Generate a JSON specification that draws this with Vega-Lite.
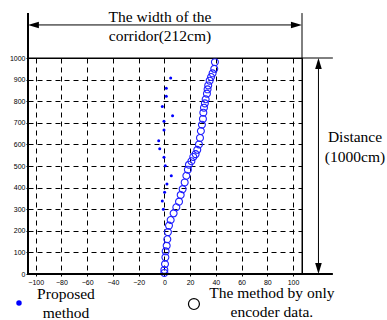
{
  "$schema": "https://vega.github.io/schema/vega-lite/v6.json",
  "width": 274,
  "height": 216,
  "autosize": "none",
  "padding": {"left": 28, "top": 58, "right": 85, "bottom": 46},
  "background": "white",
  "config": {
    "view": {"stroke": "black", "strokeWidth": 1},
    "font": "Liberation Sans",
    "axis": {"labelOverlap": false, "labelFlush": false, "labelBound": false, "labelFontSize": 7, "labelColor": "#000", "domain": false, "tickSize": 2, "tickColor": "#000",
      "grid": true, "gridDash": [5, 4], "gridColor": "#000000", "gridOpacity": 1, "gridWidth": 1, "title": null}
  },
  "datasets": {
    "encoder": [
      {"x": 0, "y": 5}, {"x": 0, "y": 19}, {"x": 0.5, "y": 46}, {"x": 0.8, "y": 77},
      {"x": 1, "y": 105}, {"x": 1.8, "y": 131}, {"x": 2.3, "y": 161}, {"x": 2.8, "y": 194},
      {"x": 3.6, "y": 224}, {"x": 4.9, "y": 250}, {"x": 7.2, "y": 281}, {"x": 9.3, "y": 309},
      {"x": 11.4, "y": 335}, {"x": 12.7, "y": 366}, {"x": 14.2, "y": 393}, {"x": 15.8, "y": 424},
      {"x": 17.1, "y": 455}, {"x": 18.3, "y": 483}, {"x": 19.1, "y": 506}, {"x": 21, "y": 522},
      {"x": 22.5, "y": 542}, {"x": 24.3, "y": 555}, {"x": 25.6, "y": 575}, {"x": 26.9, "y": 600},
      {"x": 27.7, "y": 630}, {"x": 28.4, "y": 662}, {"x": 29.2, "y": 691}, {"x": 30, "y": 718},
      {"x": 30.3, "y": 747}, {"x": 30.8, "y": 770}, {"x": 31.5, "y": 790}, {"x": 32.1, "y": 809},
      {"x": 33.1, "y": 835}, {"x": 33.6, "y": 855}, {"x": 34.1, "y": 873}, {"x": 35.2, "y": 895},
      {"x": 36.3, "y": 912}, {"x": 37.5, "y": 929}, {"x": 38.8, "y": 950}, {"x": 39.3, "y": 981}
    ],
    "proposed": [
      {"x": 4.9, "y": 907}, {"x": 1.5, "y": 860}, {"x": 1.5, "y": 823}, {"x": -1.6, "y": 775},
      {"x": 6.4, "y": 733}, {"x": -0.3, "y": 707}, {"x": -0.3, "y": 667}, {"x": -4.4, "y": 617},
      {"x": -3.6, "y": 580}, {"x": -0.3, "y": 540}, {"x": 0.7, "y": 501}, {"x": 5.4, "y": 455},
      {"x": 2, "y": 417}, {"x": 0.2, "y": 378}, {"x": -1.6, "y": 338}, {"x": -0.8, "y": 300}
    ],
    "lines": [
      {"x": -106, "x2": -106, "y": 0, "y2": 1208, "kind": "thick"},
      {"x": -106, "x2": 131, "y": 0, "y2": 0, "kind": "thick"},
      {"x": 107, "x2": 107, "y": 0, "y2": 1208, "kind": "thin"},
      {"x": -106, "x2": 131, "y": 1000, "y2": 1000, "kind": "thin"},
      {"x": -103, "x2": 104, "y": 1153, "y2": 1153, "kind": "thin"},
      {"x": 119.8, "x2": 119.8, "y": 12, "y2": 988, "kind": "thin"}
    ],
    "arrows": [
      {"x": -101.8, "y": 1153, "dir": "left"},
      {"x": 102.7, "y": 1153, "dir": "right"},
      {"x": 119.8, "y": 974, "dir": "up"},
      {"x": 119.8, "y": 26, "dir": "down"}
    ],
    "labels": [
      {"x": -3.4, "y": 1168, "text": "The width of the"},
      {"x": -3.4, "y": 1080, "text": "corridor(212cm)"},
      {"x": 148.2, "y": 611, "text": "Distance"},
      {"x": 148.2, "y": 520, "text": "(1000cm)"},
      {"x": -76.5, "y": -116, "text": "Proposed"},
      {"x": -76.5, "y": -204, "text": "method"},
      {"x": 83.6, "y": -111, "text": "The method by only"},
      {"x": 83.6, "y": -199, "text": "encoder data."}
    ],
    "legdot": [{"x": -113, "y": -134}],
    "legcircle": [{"x": 23, "y": -139}]
  },
  "layer": [
    {
      "data": {"name": "encoder"},
      "mark": {"type": "point", "filled": false, "color": "#1f1fff", "strokeWidth": 1.1, "size": 48, "opacity": 1},
      "encoding": {
        "x": {"field": "x", "type": "quantitative", "scale": {"domain": [-106, 107], "nice": false, "zero": false},
          "axis": {"values": [-100, -80, -60, -40, -20, 0, 20, 40, 60, 80, 100], "tickCount": 30, "labelPadding": 2, "labelOverlap": false, "format": "d"}},
        "y": {"field": "y", "type": "quantitative", "scale": {"domain": [0, 1000], "nice": false, "zero": false},
          "axis": {"values": [0, 100, 200, 300, 400, 500, 600, 700, 800, 900, 1000], "tickCount": 30, "labelPadding": 1, "labelOverlap": false, "format": "d"}}
      }
    },
    {
      "data": {"name": "proposed"},
      "mark": {"type": "point", "filled": true, "color": "#0000ff", "size": 9, "opacity": 1},
      "encoding": {
        "x": {"field": "x", "type": "quantitative"},
        "y": {"field": "y", "type": "quantitative"}
      }
    },
    {
      "data": {"name": "lines"},
      "mark": {"type": "rule", "color": "#000"},
      "encoding": {
        "x": {"field": "x", "type": "quantitative"},
        "x2": {"field": "x2"},
        "y": {"field": "y", "type": "quantitative"},
        "y2": {"field": "y2"},
        "strokeWidth": {"field": "kind", "type": "nominal", "scale": {"domain": ["thick", "thin"], "range": [2, 1]}, "legend": null}
      }
    },
    {
      "data": {"name": "arrows"},
      "mark": {"type": "point", "filled": true, "color": "#000", "size": 121, "opacity": 1},
      "encoding": {
        "x": {"field": "x", "type": "quantitative"},
        "y": {"field": "y", "type": "quantitative"},
        "shape": {"field": "dir", "type": "nominal", "legend": null,
          "scale": {"domain": ["left", "right", "up", "down"],
            "range": ["M -1 0 L 1 -0.6 L 1 0.6 Z", "M 1 0 L -1 -0.6 L -1 0.6 Z", "M 0 -1 L -0.6 1 L 0.6 1 Z", "M 0 1 L -0.6 -1 L 0.6 -1 Z"]}}
      }
    },
    {
      "data": {"name": "labels"},
      "mark": {"type": "text", "font": "Liberation Serif", "fontSize": 15.5, "align": "center", "baseline": "alphabetic", "color": "#000"},
      "encoding": {
        "x": {"field": "x", "type": "quantitative"},
        "y": {"field": "y", "type": "quantitative"},
        "text": {"field": "text"}
      }
    },
    {
      "data": {"name": "legdot"},
      "mark": {"type": "point", "filled": true, "color": "#0000ff", "size": 30, "opacity": 1},
      "encoding": {
        "x": {"field": "x", "type": "quantitative"},
        "y": {"field": "y", "type": "quantitative"}
      }
    },
    {
      "data": {"name": "legcircle"},
      "mark": {"type": "point", "filled": false, "color": "#000", "strokeWidth": 1.2, "size": 120, "opacity": 1},
      "encoding": {
        "x": {"field": "x", "type": "quantitative"},
        "y": {"field": "y", "type": "quantitative"}
      }
    }
  ]
}
